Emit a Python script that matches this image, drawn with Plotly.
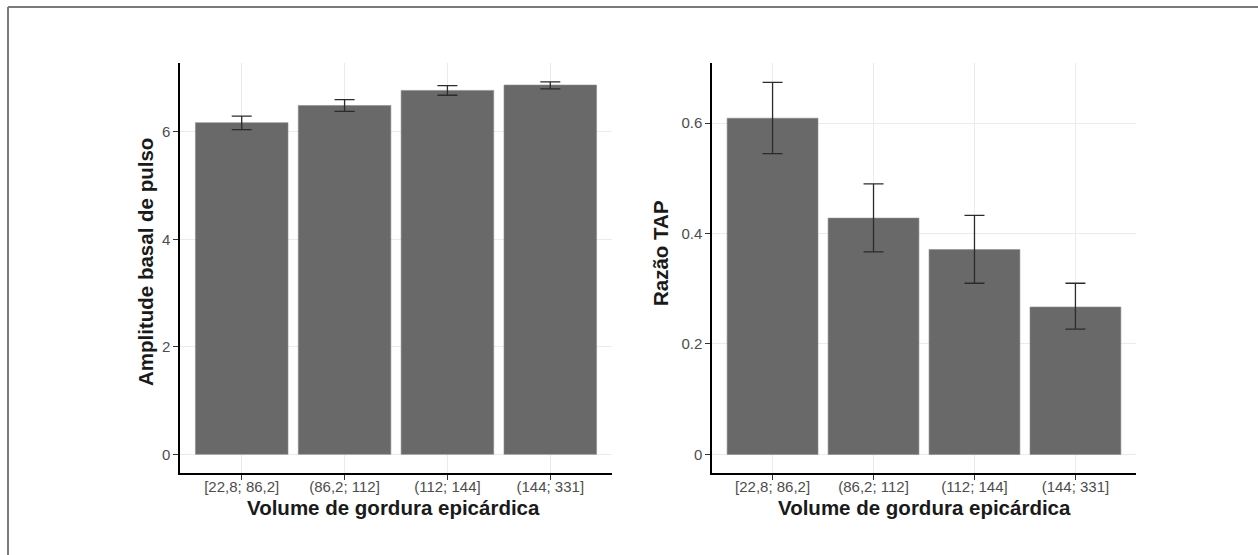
import plotly.graph_objects as go

categories = ["[22,8; 86,2]", "(86,2; 112]", "(112; 144]", "(144; 331]"]

amp_mean = [6.17, 6.49, 6.77, 6.87]
amp_upper = [6.29, 6.60, 6.86, 6.93]
amp_lower = [6.04, 6.38, 6.68, 6.80]

tap_mean = [0.609, 0.428, 0.371, 0.267]
tap_upper = [0.674, 0.490, 0.433, 0.310]
tap_lower = [0.545, 0.367, 0.310, 0.227]

x_title = "Volume de gordura epicárdica"
y_title_left = "Amplitude basal de pulso"
y_title_right = "Razão TAP"

bar_color = "#696969"
font_fam = "Liberation Sans, Arial, sans-serif"

fig = go.Figure()


def add_panel(mean, upper, lower, xa, ya):
    fig.add_trace(go.Bar(
        x=categories, y=mean, width=0.9,
        marker=dict(color=bar_color, line=dict(color="#8a8a8a", width=0.6)),
        error_y=dict(type="data", symmetric=False,
                     array=[u - m for u, m in zip(upper, mean)],
                     arrayminus=[m - l for m, l in zip(mean, lower)],
                     color="#2b2b2b", thickness=1.3, width=10),
        xaxis=xa, yaxis=ya, showlegend=False, hoverinfo="skip",
    ))


add_panel(amp_mean, amp_upper, amp_lower, "x", "y")
add_panel(tap_mean, tap_upper, tap_lower, "x2", "y2")

ydom = [1 - 473 / 555, 1 - 63 / 555]
common_x = dict(
    type="category", range=[-0.6, 3.6], showline=True, linecolor="black", linewidth=1.5,
    ticks="outside", ticklen=5, tickcolor="#333333", tickwidth=1.2,
    showgrid=True, gridcolor="#EBEBEB", gridwidth=1.2, zeroline=False,
    ticklabelstandoff=-6,
    tickfont=dict(family=font_fam, size=15, color="#4D4D4D"), fixedrange=True,
)
common_y = dict(
    showline=True, linecolor="black", linewidth=1.5,
    ticks="outside", ticklen=5, tickcolor="#333333", tickwidth=1.2,
    showgrid=True, gridcolor="#EBEBEB", gridwidth=1.2, zeroline=False,
    tickfont=dict(family=font_fam, size=15, color="#4D4D4D"), domain=ydom,
)

fig.update_layout(
    width=1258, height=555,
    margin=dict(l=0, r=0, t=0, b=0),
    paper_bgcolor="white", plot_bgcolor="white",
    bargap=0.1,
    xaxis=dict(domain=[180 / 1258, 612 / 1258], anchor="y", **common_x),
    yaxis=dict(anchor="x", range=[-0.347, 7.28], tickvals=[0, 2, 4, 6], ticktext=["0", "2", "4", "6"], **common_y),
    xaxis2=dict(domain=[712 / 1258, 1136 / 1258], anchor="y2", **common_x),
    yaxis2=dict(anchor="x2", range=[-0.0337, 0.709], tickvals=[0, 0.2, 0.4, 0.6], ticktext=["0", "0.2", "0.4", "0.6"], **common_y),
)

title_font = dict(family=font_fam, size=20.5, color="#1a1a1a")
annotations = [
    dict(text="<b>" + x_title + "</b>", x=393 / 1258, y=1 - 507 / 555, xref="paper", yref="paper",
         showarrow=False, font=title_font, xanchor="center", yanchor="middle"),
    dict(text="<b>" + x_title + "</b>", x=924 / 1258, y=1 - 507 / 555, xref="paper", yref="paper",
         showarrow=False, font=title_font, xanchor="center", yanchor="middle"),
    dict(text="<b>" + y_title_left + "</b>", x=145 / 1258, y=1 - 262 / 555, xref="paper", yref="paper",
         showarrow=False, font=title_font, textangle=-90, xanchor="center", yanchor="middle"),
    dict(text="<b>" + y_title_right + "</b>", x=660 / 1258, y=1 - 253 / 555, xref="paper", yref="paper",
         showarrow=False, font=title_font, textangle=-90, xanchor="center", yanchor="middle"),
]
fig.update_layout(annotations=annotations)

fig.update_layout(shapes=[
    dict(type="line", xref="paper", yref="paper", x0=8 / 1258, x1=1, y0=1 - 7 / 555, y1=1 - 7 / 555,
         line=dict(color="#7a7a7a", width=2)),
    dict(type="line", xref="paper", yref="paper", x0=8 / 1258, x1=8 / 1258, y0=0, y1=1 - 7 / 555,
         line=dict(color="#7a7a7a", width=2)),
])

fig.write_html("out.html", config={"displayModeBar": False},
               post_script="document.body.style.margin='0';document.body.style.padding='0';")
